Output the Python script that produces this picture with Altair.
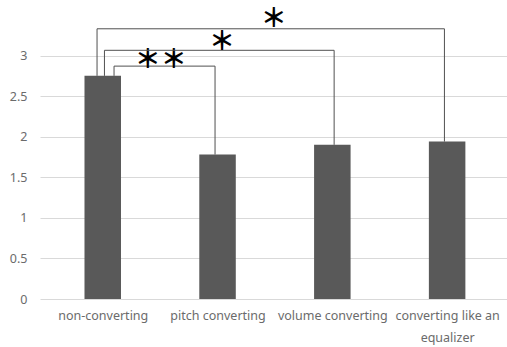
import json
import altair as alt
import pandas as pd

# group names and their mean scores
categories = ["non-converting", "pitch converting", "volume converting",
              "converting like an equalizer"]
tick_labels = [["non-converting"], ["pitch converting"], ["volume converting"],
               ["converting like an", "equalizer"]]
means = [2.75, 1.78, 1.90, 1.94]

y_ticks = [0, 0.5, 1, 1.5, 2, 2.5, 3]

# significance brackets: compared groups, bracket height, marker
bracket_from = ["non-converting", "non-converting", "non-converting"]
bracket_to = ["pitch converting", "volume converting", "converting like an equalizer"]
bracket_height = [2.87, 3.065, 3.33]
bracket_marker = ["＊＊", "＊", "＊"]

# pixel nudges for the bracket legs and the markers
leg_from_offset = [11.3, 1.7, -5.7]
leg_to_offset = [-2.5, 1.8, -2.7]
marker_offset_x = [0.7, 4.5, -1.2]
marker_dy = [-6, -8, -10]

MARK_FONT = "Noto Sans CJK JP"
LABEL_FONT = "Noto Sans"
GRAY = "#595959"
TEXT_GRAY = "#6b6b6b"
LINE = "#505050"

idx = {c: i for i, c in enumerate(categories)}
bar_df = pd.DataFrame({"idx": list(range(len(categories))),
                       "group": categories, "mean": means})

x_scale = alt.Scale(domain=[-0.503, 3.478], nice=False, zero=False)
y_scale = alt.Scale(domain=[0, 3.5], nice=False)

label_expr = json.dumps(tick_labels, ensure_ascii=False) + "[datum.value]"
x_axis = alt.Axis(values=list(range(len(categories))), labelExpr=label_expr,
                  grid=False, domain=False, ticks=False, labelPadding=10,
                  labelFont=LABEL_FONT, labelFontSize=12.5, labelColor=TEXT_GRAY,
                  labelLineHeight=22, labelBaseline="top")
y_axis = alt.Axis(values=y_ticks, format="~g", grid=True, gridColor="#d9d9d9",
                  domain=False, ticks=False, labelPadding=13, labelFont=LABEL_FONT,
                  labelFontSize=12.5, labelColor=TEXT_GRAY)

bars = alt.Chart(bar_df).mark_bar(size=36.5, color=GRAY).encode(
    x=alt.X("idx:Q", scale=x_scale, axis=x_axis, title=None),
    y=alt.Y("mean:Q", scale=y_scale, axis=y_axis, title=None),
)

layers = [bars]
for k in range(len(bracket_to)):
    li = idx[bracket_from[k]]
    ri = idx[bracket_to[k]]
    row = pd.DataFrame({
        "li": [li], "ri": [ri],
        "yl": [means[li]], "yr": [means[ri]],
        "h": [bracket_height[k]], "marker": [bracket_marker[k]],
    })
    base = alt.Chart(row)
    xs = dict(scale=x_scale, axis=x_axis, title=None)
    ys = dict(scale=y_scale, axis=y_axis, title=None)
    left_leg = base.mark_rule(color=LINE, strokeWidth=1, xOffset=leg_from_offset[k]).encode(
        x=alt.X("li:Q", **xs), y=alt.Y("yl:Q", **ys), y2="h:Q")
    right_leg = base.mark_rule(color=LINE, strokeWidth=1, xOffset=leg_to_offset[k]).encode(
        x=alt.X("ri:Q", **xs), y=alt.Y("yr:Q", **ys), y2="h:Q")
    top = base.mark_rule(color=LINE, strokeWidth=1, xOffset=leg_from_offset[k],
                         x2Offset=leg_to_offset[k]).encode(
        x=alt.X("li:Q", **xs), x2="ri:Q", y=alt.Y("h:Q", **ys))
    marker = base.transform_calculate(mid="(datum.li + datum.ri) / 2").mark_text(
        font=MARK_FONT, fontSize=26, fontWeight="bold", color="black", baseline="middle",
        dy=marker_dy[k], xOffset=marker_offset_x[k]).encode(
        x=alt.X("mid:Q", **xs), y=alt.Y("h:Q", **ys), text="marker:N")
    layers += [left_leg, right_leg, top, marker]

chart = alt.layer(*layers).properties(
    width=467, height=284,
    padding={"left": 40, "top": 15, "right": 0, "bottom": 48},
    autosize=alt.AutoSizeParams(type="none"),
    background="white",
).configure_view(stroke=None)

chart.save("out.html", embed_options={"renderer": "svg", "actions": False})
